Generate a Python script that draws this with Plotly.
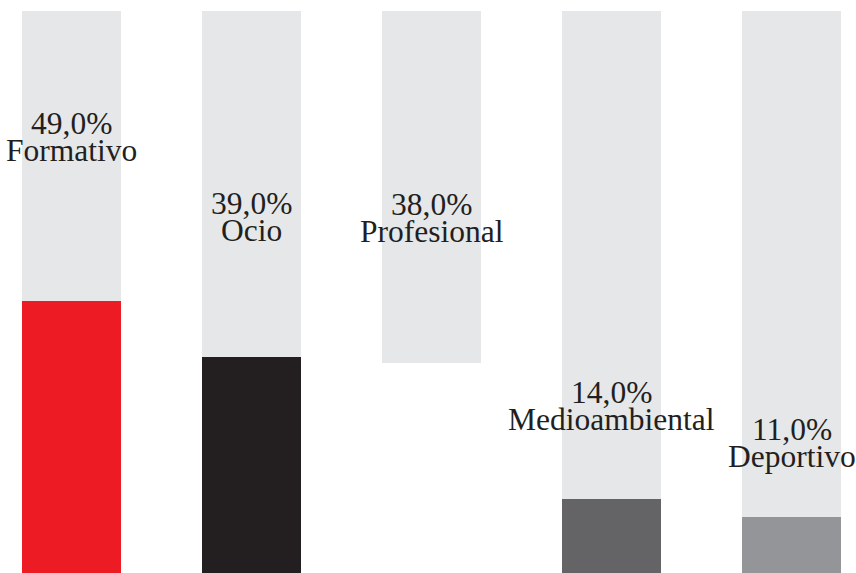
import plotly.graph_objects as go

categories = ["Formativo", "Ocio", "Profesional", "Medioambiental", "Deportivo"]
values = [49.0, 39.0, 38.0, 14.0, 11.0]
background_total = [100, 100, 100, 100, 100]

bar_colors = ["#ED1C24", "#231F20", "#FFFFFF", "#646466", "#939598"]
# pixel offsets of the label (above the top of each coloured bar)
label_shift = [177, 154, 159, 107, 87]

x = list(range(len(categories)))

fig = go.Figure()
fig.add_trace(go.Bar(x=x, y=background_total, width=0.55, marker=dict(color="#E6E7E8", line=dict(width=0)),
                     hoverinfo="skip", showlegend=False))
fig.add_trace(go.Bar(x=x, y=values, width=0.55, marker=dict(color=bar_colors, line=dict(width=0)),
                     showlegend=False))

font = dict(family="Liberation Serif, Times New Roman, serif", size=31.5, color="#231F20")
for xi, cat, v, sh in zip(x, categories, values, label_shift):
    pct = f"{v:.1f}%".replace(".", ",")
    fig.add_annotation(x=xi, y=v, yshift=sh, text=pct, showarrow=False, font=font,
                       xanchor="center", yanchor="middle")
    fig.add_annotation(x=xi, y=v, yshift=sh - 27, text=cat, showarrow=False, font=font,
                       xanchor="center", yanchor="middle")

fig.update_layout(
    width=856, height=573,
    margin=dict(l=0, r=0, t=0, b=0),
    barmode="overlay",
    bargap=0,
    plot_bgcolor="white", paper_bgcolor="white",
    xaxis=dict(range=[-0.3972, 4.3583], visible=False, fixedrange=True),
    yaxis=dict(range=[1.056, 101.94], visible=False, fixedrange=True),
)
fig.write_html("out.html", config={"displayModeBar": False},
               post_script="document.body.style.margin='0';document.body.style.overflow='hidden';")
